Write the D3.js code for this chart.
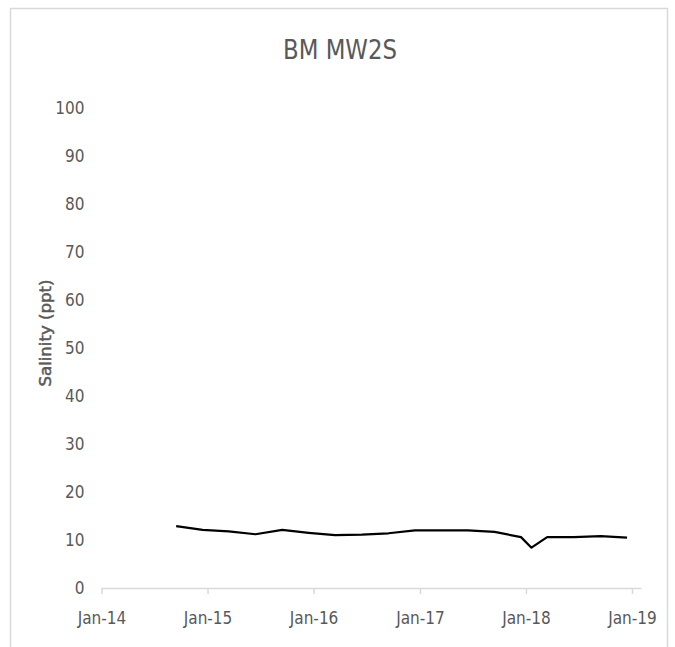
<!DOCTYPE html>
<html><head><meta charset="utf-8">
<script src="https://cdn.jsdelivr.net/npm/d3@7"></script>
<style>body{margin:0;background:#fff}</style>
</head><body>
<svg id="c" width="675" height="647"></svg>
<script>
const title = "BM MW2S";
const yLabel = "Salinity (ppt)";
const dates = ["2014-09-15","2014-12-15","2015-03-15","2015-06-15","2015-09-15","2015-12-15",
  "2016-03-15","2016-06-15","2016-09-15","2016-12-15","2017-03-15","2017-06-15","2017-09-15",
  "2017-12-15","2018-01-20","2018-03-15","2018-06-15","2018-09-15","2018-12-15"];
const salinity = [12.9,12.1,11.8,11.2,12.1,11.5,11.0,11.1,11.4,12.0,12.0,12.0,11.7,10.6,8.4,10.6,10.6,10.8,10.5];
const xTicks = ["2014-01-01","2015-01-01","2016-01-01","2017-01-01","2018-01-01","2019-01-01"];
const yTicks = [0,10,20,30,40,50,60,70,80,90,100];

const parse = d3.timeParse("%Y-%m-%d");
const fmt = d3.timeFormat("%b-%y");
const data = dates.map((d,i)=>({date:parse(d), v:salinity[i]}));
const svg = d3.select("#c");
const font = "'DejaVu Sans Condensed','Liberation Sans Narrow',sans-serif";

svg.append("rect").attr("x",10.5).attr("y",8.5).attr("width",657).attr("height",660)
  .attr("fill","#fff").attr("stroke","#d9d9d9").attr("stroke-width",1.5);

const x = d3.scaleTime().domain([parse("2014-01-01"), parse("2019-02-01")]).range([101.5, 641]);
const y = d3.scaleLinear().domain([0,100]).range([588, 108]);

svg.append("text").attr("x",340).attr("y",59).attr("text-anchor","middle")
  .attr("font-family",font).attr("font-size",26).attr("font-stretch","condensed")
  .attr("fill","#595959").attr("textLength",114).attr("lengthAdjust","spacingAndGlyphs").text(title);

// y axis labels
const ya = svg.append("g").attr("transform","translate(101.5,0)")
  .call(d3.axisLeft(y).tickValues(yTicks).tickSize(0).tickPadding(17));
ya.select(".domain").remove();
ya.selectAll("text").attr("font-family",font).attr("font-size",17).attr("font-stretch","condensed").attr("fill","#595959");

// x axis
const xa = svg.append("g").attr("transform","translate(0,588)")
  .call(d3.axisBottom(x).tickValues(xTicks.map(parse)).tickFormat(fmt).tickSize(6).tickSizeOuter(0).tickPadding(18));
xa.select(".domain").attr("stroke","#d9d9d9").attr("stroke-width",1.5);
xa.selectAll(".tick line").attr("stroke","#d9d9d9").attr("stroke-width",1.5);
xa.selectAll("text").attr("font-family",font).attr("font-size",17).attr("font-stretch","condensed").attr("fill","#595959");

svg.append("text").attr("transform","translate(51,333) rotate(-90)").attr("text-anchor","middle")
  .attr("font-family","'DejaVu Sans',sans-serif").attr("font-size",15).attr("font-stretch","normal")
  .attr("textLength",107).attr("lengthAdjust","spacingAndGlyphs")
  .attr("fill","#595959").attr("stroke","#595959").attr("stroke-width",0.5).text(yLabel);

svg.append("path").datum(data)
  .attr("d", d3.line().x(d=>x(d.date)).y(d=>y(d.v)))
  .attr("fill","none").attr("stroke","#000").attr("stroke-width",2.2).attr("stroke-linejoin","round");
</script>
</body></html>
